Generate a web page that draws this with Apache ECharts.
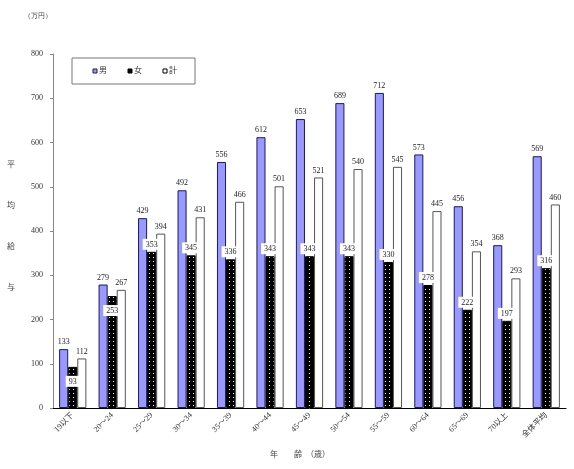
<!DOCTYPE html>
<html>
<head>
<meta charset="utf-8">
<script src="https://cdn.jsdelivr.net/npm/echarts@6/dist/echarts.min.js"></script>
<style>
  html, body { margin: 0; padding: 0; background: #fff; }
  #chart { width: 574px; height: 469px; }
</style>
</head>
<body>
<div id="chart"></div>
<script type="text/javascript">
  // data
  var categories = ['19以下', '20～24', '25～29', '30～34', '35～39', '40～44', '45～49',
                    '50～54', '55～59', '60～64', '65～69', '70以上', '全体平均'];
  var male   = [133, 279, 429, 492, 556, 612, 653, 689, 712, 573, 456, 368, 569];
  var female = [93, 253, 353, 345, 336, 343, 343, 343, 330, 278, 222, 197, 316];
  var total  = [112, 267, 394, 431, 466, 501, 521, 540, 545, 445, 354, 293, 460];
  var yTicks = [0, 100, 200, 300, 400, 500, 600, 700, 800];

  var FONT = "'Liberation Serif', 'Noto Sans CJK JP', serif";

  // black fill with small white dots for the female bars
  var dots = document.createElement('canvas');
  dots.width = 4; dots.height = 4;
  var dctx = dots.getContext('2d');
  dctx.fillStyle = '#000';
  dctx.fillRect(0, 0, 4, 4);
  dctx.fillStyle = '#fff';
  dctx.fillRect(1, 1, 1, 1);

  // the two first female labels sit inside the bar
  var femaleData = female.map(function (v, i) {
    if (i < 2) {
      return { value: v, label: { position: 'insideTop', distance: 9 } };
    }
    return v;
  });

  var myChart = echarts.init(document.getElementById('chart'));

  var option = {
    animation: false,
    backgroundColor: '#fff',
    textStyle: { fontFamily: FONT },
    grid: { left: 53, right: 8, top: 54, bottom: 61 },
    legend: { show: false },
    xAxis: {
      type: 'category',
      data: categories,
      axisLine: { lineStyle: { color: '#000', width: 1 } },
      axisTick: { show: false },
      axisLabel: {
        rotate: 45, fontSize: 8, color: '#333', fontFamily: FONT,
        margin: 6, interval: 0
      }
    },
    yAxis: {
      type: 'value',
      min: yTicks[0],
      max: yTicks[yTicks.length - 1],
      interval: 100,
      splitLine: { show: false },
      axisLine: { show: true, lineStyle: { color: '#888' } },
      axisTick: { show: true, length: 3, lineStyle: { color: '#888' } },
      axisLabel: { fontSize: 8, color: '#333', fontFamily: FONT, margin: 10 }
    },
    series: [
      {
        name: '男', type: 'bar', data: male,
        barGap: '0%', barCategoryGap: '31%',
        itemStyle: { color: '#9999ff', borderColor: '#1a1a5e', borderWidth: 1 },
        label: { show: true, position: 'top', distance: 3, fontSize: 8, color: '#222', fontFamily: FONT }
      },
      {
        name: '女', type: 'bar', data: femaleData,
        itemStyle: { color: { image: dots, repeat: 'repeat' }, borderColor: '#000', borderWidth: 1 },
        label: {
          show: true, position: 'top', distance: 2, fontSize: 8, color: '#222', fontFamily: FONT,
          backgroundColor: '#fff', padding: [2, 3, 1, 3]
        },
        z: 3
      },
      {
        name: '計', type: 'bar', data: total,
        itemStyle: { color: '#fff', borderColor: '#555', borderWidth: 1 },
        label: { show: true, position: 'top', distance: 3, fontSize: 8, color: '#222', fontFamily: FONT }
      }
    ],
    graphic: [
      { type: 'text', left: 24, top: 13, style: { text: '（万円）', fontSize: 7, fill: '#444', font: "7px 'Noto Sans CJK JP'" } },
      { type: 'text', left: 7, top: 160, style: { text: '平', font: "8px 'Noto Sans CJK JP'", fill: '#444' } },
      { type: 'text', left: 7, top: 201, style: { text: '均', font: "8px 'Noto Sans CJK JP'", fill: '#444' } },
      { type: 'text', left: 7, top: 242, style: { text: '給', font: "8px 'Noto Sans CJK JP'", fill: '#444' } },
      { type: 'text', left: 7, top: 283, style: { text: '与', font: "8px 'Noto Sans CJK JP'", fill: '#444' } },
      { type: 'text', left: 270, top: 450, style: { text: '年　　齢　（歳）', font: "8px 'Noto Sans CJK JP'", fill: '#444' } },
      // legend box
      { type: 'rect', shape: { x: 72, y: 58, width: 123, height: 26 },
        style: { fill: '#fff', stroke: '#777', lineWidth: 1 }, z: 10 },
      { type: 'rect', shape: { x: 93, y: 69, width: 4, height: 4 },
        style: { fill: '#9999ff', stroke: '#1a1a5e', lineWidth: 1 }, z: 11 },
      { type: 'text', left: 99, top: 66, style: { text: '男', font: "8px 'Noto Sans CJK JP'", fill: '#333' }, z: 11 },
      { type: 'rect', shape: { x: 128, y: 69, width: 4, height: 4 },
        style: { fill: '#000', stroke: '#000', lineWidth: 1 }, z: 11 },
      { type: 'text', left: 134, top: 66, style: { text: '女', font: "8px 'Noto Sans CJK JP'", fill: '#333' }, z: 11 },
      { type: 'rect', shape: { x: 163, y: 69, width: 4, height: 4 },
        style: { fill: '#fff', stroke: '#000', lineWidth: 1 }, z: 11 },
      { type: 'text', left: 169, top: 66, style: { text: '計', font: "8px 'Noto Sans CJK JP'", fill: '#333' }, z: 11 }
    ]
  };

  myChart.setOption(option);
</script>
</body>
</html>
